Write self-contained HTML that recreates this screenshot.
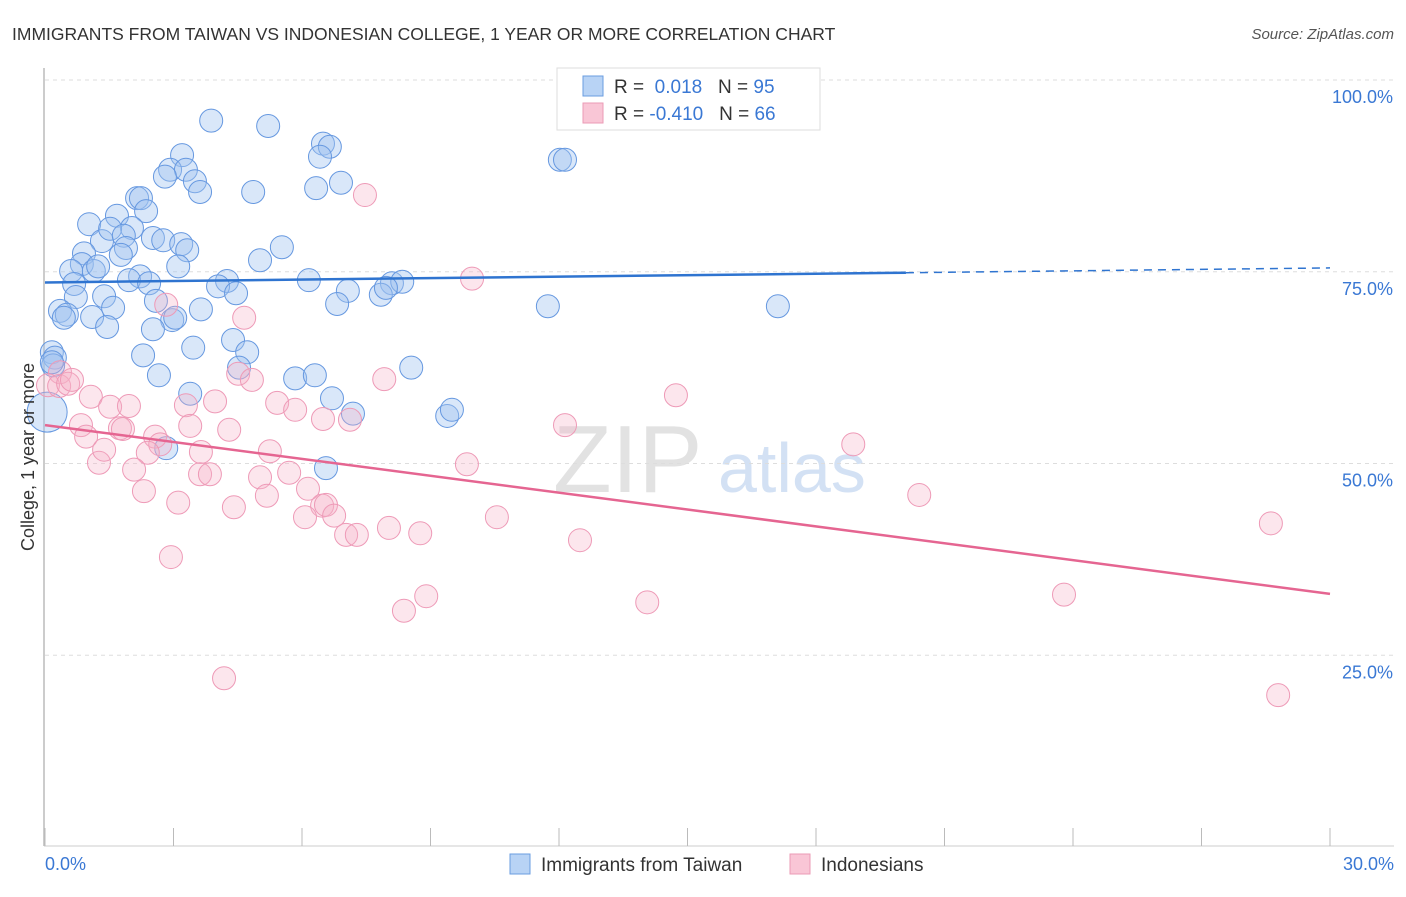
<!DOCTYPE html>
<html><head><meta charset="utf-8"><style>
body{margin:0;background:#fff;font-family:"Liberation Sans",sans-serif;}
svg text{font-family:"Liberation Sans",sans-serif;}
</style></head><body>
<svg id="c" width="1406" height="892">
<text x="12" y="40" font-size="17.5" fill="#333">IMMIGRANTS FROM TAIWAN VS INDONESIAN COLLEGE, 1 YEAR OR MORE CORRELATION CHART</text>
<text x="1394" y="39" font-size="15" fill="#555" font-style="italic" text-anchor="end">Source: ZipAtlas.com</text>
<g><text x="553" y="492" font-size="96" fill="#e2e2e2" font-family="Liberation Serif,serif">ZIP</text><text x="718" y="492" font-size="70" fill="#d3e1f4">atlas</text></g>
<g id="grid"></g><g id="pts"></g><g id="trend"></g>
<text transform="translate(34,457) rotate(-90)" font-size="18" fill="#333" text-anchor="middle">College, 1 year or more</text>
<g>
<rect x="557" y="68" width="263" height="62" fill="#fff" stroke="#ddd"/>
<rect x="583" y="76" width="20" height="20" fill="#b8d3f5" stroke="#6a9de0"/>
<rect x="583" y="103" width="20" height="20" fill="#f9c6d6" stroke="#eb9bb6"/>
<text x="614" y="93" font-size="19" fill="#333">R = <tspan fill="#3a78d4">&#160;0.018</tspan>&#160;&#160;&#160;N = <tspan fill="#3a78d4">95</tspan></text>
<text x="614" y="120" font-size="19" fill="#333">R = <tspan fill="#3a78d4">-0.410</tspan>&#160;&#160;&#160;N = <tspan fill="#3a78d4">66</tspan></text>
</g>
<g>
<rect x="510" y="854" width="20" height="20" fill="#b8d3f5" stroke="#6a9de0"/>
<text x="541" y="871" font-size="19" fill="#333">Immigrants from Taiwan</text>
<rect x="790" y="854" width="20" height="20" fill="#f9c6d6" stroke="#eb9bb6"/>
<text x="821" y="871" font-size="19" fill="#333">Indonesians</text>
</g>
<text x="45" y="870" font-size="18" fill="#3a78d4">0.0%</text>
<text x="1394" y="870" font-size="18" fill="#3a78d4" text-anchor="end">30.0%</text>
</svg>
<script>
const yTicks=[100,75,50,25];
const yTickLabels=["100.0%","75.0%","50.0%","25.0%"];
const xTicks=[0,3,6,9,12,15,18,21,24,27,30];
const blueX=[3.88,5.21,3.20,6.49,6.65,6.42,12.02,12.14,2.92,3.29,2.80,3.50,3.62,4.86,6.33,6.91,2.15,2.24,2.36,1.03,1.68,2.03,1.33,1.52,1.84,1.89,2.52,2.76,3.18,3.32,0.91,1.77,0.86,5.02,5.53,3.11,0.61,1.14,1.24,2.22,1.96,2.43,0.68,4.25,4.04,4.46,6.16,7.07,8.10,8.34,7.84,7.96,0.72,1.38,2.59,3.64,6.82,11.74,17.11,0.35,0.51,0.44,1.10,1.59,1.45,2.97,3.04,2.52,3.46,4.39,4.72,2.29,0.16,0.23,0.19,4.53,2.66,5.84,6.30,8.55,6.70,3.39,7.19,9.39,9.50,6.56,2.83,0.05,0.16];
const blueY=[94.7,94.0,90.2,91.7,91.3,90.0,89.6,89.6,88.3,88.3,87.4,86.8,85.4,85.4,85.9,86.6,84.6,84.6,82.9,81.2,82.3,80.7,79.0,80.6,79.7,78.1,79.4,79.1,78.6,77.8,77.4,77.2,76.0,76.5,78.2,75.7,75.1,75.1,75.7,74.4,73.9,73.5,73.4,73.8,73.1,72.2,73.9,72.5,73.5,73.7,72.0,72.9,71.7,71.8,71.2,70.1,70.8,70.5,70.5,69.9,69.4,69.0,69.1,70.3,67.8,68.7,69.0,67.5,65.1,66.1,64.5,64.1,64.5,63.8,62.8,62.5,61.5,61.1,61.5,62.5,58.5,59.1,56.5,56.2,57.0,49.4,52.0,56.7,63.2];
const pinkX=[7.47,9.97,2.83,4.65,0.35,0.07,0.33,0.54,0.63,1.07,1.52,4.51,4.83,7.92,3.97,3.29,5.42,5.84,7.12,12.14,14.73,18.87,0.84,0.96,1.75,1.82,2.57,2.69,3.39,4.30,5.25,2.40,3.64,1.26,2.08,3.62,3.85,5.02,5.70,9.85,1.38,2.31,3.11,4.41,5.18,6.14,6.47,6.56,6.07,6.75,7.03,7.28,8.03,8.76,10.55,12.49,20.41,28.62,2.94,8.90,8.38,14.06,23.79,4.18,28.79,1.96,6.49];
const pinkY=[85.0,74.1,70.7,69.0,61.9,60.2,60.1,60.4,60.9,58.7,57.4,61.7,60.9,61.0,58.1,57.6,57.9,57.0,55.7,55.0,58.9,52.5,55.0,53.5,54.6,54.5,53.5,52.5,54.9,54.4,51.6,51.4,51.5,50.1,49.2,48.6,48.6,48.2,48.8,49.9,51.8,46.4,44.9,44.3,45.8,46.7,44.5,44.6,43.0,43.2,40.7,40.7,41.6,40.9,43.0,40.0,45.9,42.2,37.8,32.7,30.8,31.9,32.9,22.0,19.8,57.5,55.8];
const blueTrend=[73.6,75.5];
const blueSolidEnd=20.1;
const pinkTrend=[55.0,33.0];
const X=v=>45+v/30*1285;
const Y=v=>847-v/100*767;
const NS="http://www.w3.org/2000/svg";
function mk(p,tag,at){const e=document.createElementNS(NS,tag);for(const k in at)e.setAttribute(k,at[k]);p.appendChild(e);return e;}
const grid=document.getElementById('grid'),pts=document.getElementById('pts'),tr=document.getElementById('trend');
let ax=mk(grid,'line',{x1:44,y1:68,x2:44,y2:846,stroke:'#bbb','stroke-width':1.5});


let bx=mk(grid,'line',{x1:44,y1:846,x2:1394,y2:846,stroke:'#ccc','stroke-width':1});


yTicks.forEach((t,i)=>{
 const g=mk(grid,'line',{x1:45,x2:1394,y1:Y(t),y2:Y(t),stroke:'#ddd','stroke-dasharray':'4,4'});
 
 
 const l=mk(grid,'text',{x:1393,y:Y(t)+23,'font-size':18,fill:'#3a78d4','text-anchor':'end'});
 l.textContent=yTickLabels[i];
 
 
});
xTicks.forEach(t=>{
 const k=mk(grid,'line',{x1:X(t),x2:X(t),y1:828,y2:846,stroke:'#bbb'});
 
 
});
blueX.forEach((x,i)=>{
 const big=i===blueX.length-2;
 const c=mk(pts,'circle',{cx:X(x),cy:Y(blueY[i]),r:big?20:11.5,fill:'rgba(160,196,240,0.4)',stroke:'#6698e0','stroke-width':1});
 
 
});
pinkX.forEach((x,i)=>{
 const c=mk(pts,'circle',{cx:X(x),cy:Y(pinkY[i]),r:11.5,fill:'rgba(246,176,200,0.32)',stroke:'#ee9ab7','stroke-width':1});
 
 
});
const by=v=>blueTrend[0]+(blueTrend[1]-blueTrend[0])*v/30;
let t1=mk(tr,'line',{x1:X(0),y1:Y(by(0)),x2:X(blueSolidEnd),y2:Y(by(blueSolidEnd)),stroke:'#2f74d0','stroke-width':2.5});


let t2=mk(tr,'line',{x1:X(blueSolidEnd),y1:Y(by(blueSolidEnd)),x2:X(30),y2:Y(by(30)),stroke:'#2f74d0','stroke-width':1.5,'stroke-dasharray':'8,6'});


let t3=mk(tr,'line',{x1:X(0),y1:Y(pinkTrend[0]),x2:X(30),y2:Y(pinkTrend[1]),stroke:'#e56591','stroke-width':2.5});


</script>
</body></html>
